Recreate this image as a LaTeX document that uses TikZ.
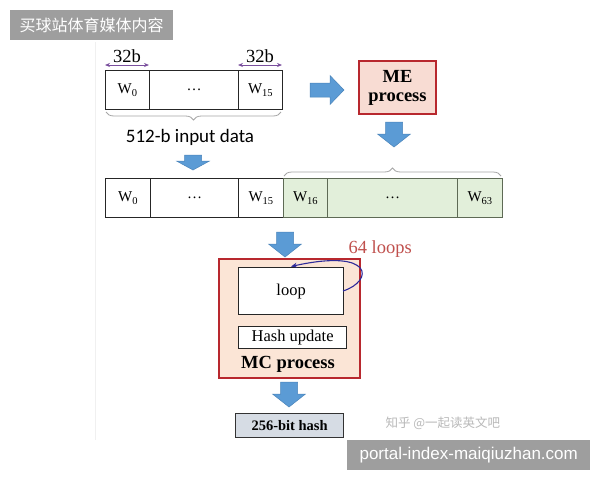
\documentclass[tikz,border=0pt]{standalone}
\usepackage{fontspec}
\setmainfont{Liberation Serif}
\newfontfamily\calib{Carlito}
\newfontfamily\arialf{Liberation Sans}
\newfontfamily\cjk{Noto Sans CJK SC}
\usetikzlibrary{decorations.pathreplacing,arrows.meta}
\definecolor{arrowblue}{HTML}{5B9BD5}
\definecolor{arrowedge}{HTML}{4A84BA}
\definecolor{darkred}{HTML}{B8282E}
\definecolor{mefill}{HTML}{F8DCD3}
\definecolor{mcfill}{HTML}{FBE5D6}
\definecolor{greenfill}{HTML}{E2EFDA}
\definecolor{greenedge}{HTML}{5E6A55}
\definecolor{hashfill}{HTML}{D6DCE4}
\definecolor{dimpurple}{HTML}{7A4F9E}
\definecolor{loopblue}{HTML}{2E2A9A}
\definecolor{loopred}{HTML}{C0504D}
\definecolor{wmgray}{HTML}{9E9E9E}
\newcommand\wsub[1]{W\textsubscript{#1}}
% block arrow pointing down: centre x, top y, tip y, head length
\newcommand\blkdown[4]{\path[blockarrow] ({#1-8.5},#2) -- ({#1+8.5},#2) -- ({#1+8.5},{#3-#4}) -- ({#1+16.5},{#3-#4}) -- (#1,#3) -- ({#1-16.5},{#3-#4}) -- ({#1-8.5},{#3-#4}) -- cycle;}
\begin{document}
\begin{tikzpicture}[x=1pt,y=-1pt,
  cell/.style={draw=black!85, line width=1.2pt, minimum height=39pt, inner sep=0pt,
    anchor=north west, font=\fontsize{15}{18}\selectfont},
  gcell/.style={cell, fill=greenfill, draw=greenedge},
  blockarrow/.style={fill=arrowblue, draw=arrowedge, line width=0.5pt, line join=miter},
  redbox/.style={draw=darkred, line width=2pt, inner sep=0pt, anchor=north west},
  plainbox/.style={draw=black!85, line width=1.2pt, fill=white, inner sep=0pt, anchor=north west},
  dimarrow/.style={draw=dimpurple, line width=0.8pt, {Stealth[length=5pt,width=4pt]}-{Stealth[length=5pt,width=4pt]}},
  brc/.style={draw=gray!70, line width=0.8pt, decorate, decoration={brace, amplitude=8pt}},
  wmbox/.style={fill=wmgray, text=white, inner sep=0pt, anchor=north west}
]
\useasboundingbox (0,0) rectangle (600,480);
\fill[white] (0,0) rectangle (600,480);
% faint left border of the screenshot
\coordinate (lt) at (95,42);
\coordinate (lb) at (95,440);
\draw[gray!12, line width=0.8pt] (lt) -- (lb);

% watermark top-left
\node[wmbox, minimum width=163pt, minimum height=30pt] (wm1) at (10,10) {};
\node[text=white, font=\cjk\fontsize{16}{18}\selectfont] (wm1t) at (wm1.center) {买球站体育媒体内容};

% row 1
\node[cell, minimum width=44pt] (w0) at (105,70) {\wsub{0}};
\node[cell, minimum width=89pt] (wd) at (149,70) {\dots};
\node[cell, minimum width=44pt] (w15) at (238,70) {\wsub{15}};

% 32b dims
\coordinate (d1a) at (105,65);
\coordinate (d1b) at (149,65);
\coordinate (d2a) at (238,65);
\coordinate (d2b) at (282,65);
\draw[dimarrow] (d1a) -- (d1b);
\draw[dimarrow] (d2a) -- (d2b);
\node[font=\fontsize{18.5}{20}\selectfont] (l32a) at (127,56) {32b};
\node[font=\fontsize{18.5}{20}\selectfont] (l32b) at (260,56) {32b};

% brace under row 1
\coordinate (b1a) at (106,112);
\coordinate (b1b) at (281,112);
\draw[brc, decoration={mirror}] (b1a) -- (b1b);
\node[font=\calib\fontsize{19}{22}\selectfont] (inlab) at (190,137.5) {512-b input data};

% right arrow
\path[blockarrow] (310,83) -- (330,83) -- (330,75.5) -- (344,90) -- (330,104.5) -- (330,97) -- (310,97) -- cycle;

% ME process
\node[redbox, fill=mefill, minimum width=77pt, minimum height=53pt] (me) at (358,60) {};
\node[font=\bfseries\fontsize{18.5}{20}\selectfont, align=center] (metxt) at (me.center) {ME\\[-1pt]process};

% down arrows
\blkdown{394}{122}{147}{13}
\blkdown{193}{155}{170}{9}

% brace above green
\coordinate (b2a) at (284,176);
\coordinate (b2b) at (501,176);
\draw[brc] (b2a) -- (b2b);

% row 2
\node[cell, minimum width=45pt] (a0) at (105,178) {\wsub{0}};
\node[cell, minimum width=88pt] (ad) at (150,178) {\dots};
\node[cell, minimum width=45pt] (a15) at (238,178) {\wsub{15}};
\node[gcell, minimum width=44pt] (g16) at (283,178) {\wsub{16}};
\node[gcell, minimum width=130pt] (gd) at (327,178) {\dots};
\node[gcell, minimum width=45pt] (g63) at (457,178) {\wsub{63}};

% arrow into MC
\blkdown{285}{232}{257}{13}

% MC process
\node[redbox, fill=mcfill, minimum width=141pt, minimum height=119pt] (mc) at (218,258) {};
\node[plainbox, minimum width=105pt, minimum height=47pt, font=\fontsize{16.5}{18}\selectfont] (loop) at (238,267) {loop};
\node[plainbox, minimum width=108pt, minimum height=22pt, font=\fontsize{16.5}{18}\selectfont] (hu) at (238,326) {Hash update};
\node[font=\bfseries\fontsize{18.5}{20}\selectfont] (mctxt) at (288,364) {MC process};

% loop arrow
\coordinate (lpa) at (343,291);
\coordinate (lpb) at (291,266.5);
\draw[loopblue, line width=1.1pt, -{Stealth[length=6pt,width=5pt]}] (lpa) .. controls (374,281) and (374,248) .. (lpb);
\node[text=loopred, font=\fontsize{18.5}{20}\selectfont, anchor=west] (loops) at (345,249) {64 loops};

% arrow to hash
\blkdown{289}{382}{407}{13}

% 256-bit hash
\node[draw=black!80, line width=1.2pt, fill=hashfill, inner sep=0pt, anchor=north west,
  minimum width=108pt, minimum height=24pt, font=\bfseries\fontsize{14.5}{16}\selectfont] (hash) at (235,413) {256-bit hash};

% watermarks bottom-right
\node[text=gray!55, font=\cjk\fontsize{12.5}{14}\selectfont, anchor=west] (zh) at (382,423) {知乎 @一起读英文吧};
\node[wmbox, minimum width=243pt, minimum height=30pt] (wm2) at (347,440) {};
\node[text=white, font=\arialf\fontsize{17}{20}\selectfont] (wm2t) at (wm2.center) {portal-index-maiqiuzhan.com};
\end{tikzpicture}
\end{document}
